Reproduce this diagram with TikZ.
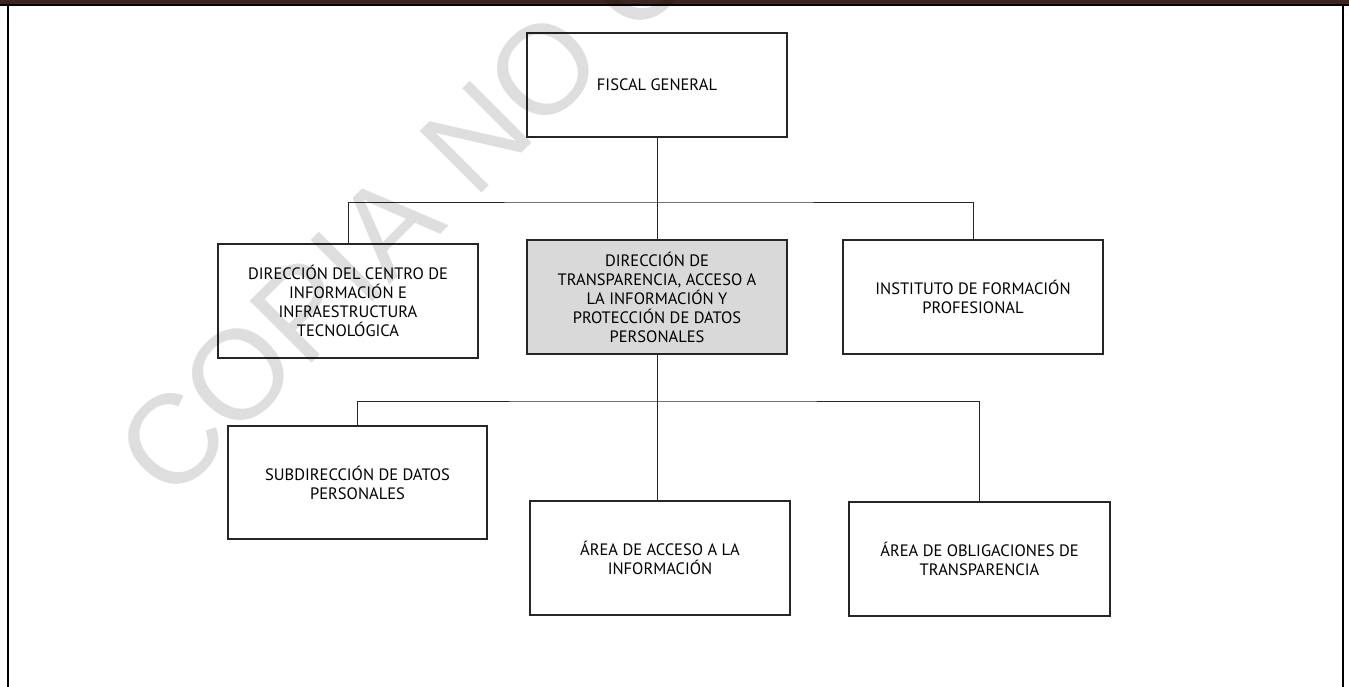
\documentclass[tikz,border=0pt]{standalone}
\usepackage{fontspec}
\setmainfont{PT Sans}
\newfontfamily\wmfont{Liberation Sans}
\definecolor{barbrown}{RGB}{62,38,32}
\definecolor{boxgray}{RGB}{217,217,217}
\begin{document}
\begin{tikzpicture}[x=1pt,y=-1pt,
  box/.style={draw=black!85, line width=1.1pt, minimum width=260pt, minimum height=114pt,
    align=center, inner sep=2pt, font=\fontsize{16.5}{19}\selectfont},
  conn/.style={draw=black!85, line width=0.9pt},
  watermark/.style={rotate=45, anchor=base west, inner sep=0pt, text=black, opacity=0.13,
    font=\wmfont\fontsize{127}{130}\selectfont}]
\useasboundingbox (0,0) rectangle (1349,687);
% frame
\fill[barbrown] (0,0) rectangle (1349,3.7);
\fill[black] (0,3.7) rectangle (1349,5.8);
\fill[black] (7,4) rectangle (9.3,687);
\fill[black] (1341.8,4) rectangle (1344.1,687);
% boxes
\node[box, minimum height=104pt] (fg) at (657,85) {FISCAL GENERAL};
\node[box] (dci) at (348,301) {DIRECCIÓN DEL CENTRO DE\\INFORMACIÓN E\\INFRAESTRUCTURA\\TECNOLÓGICA};
\node[box, fill=boxgray] (dt) at (657,297) {DIRECCIÓN DE\\TRANSPARENCIA, ACCESO A\\LA INFORMACIÓN Y\\PROTECCIÓN DE DATOS\\PERSONALES};
\node[box] (ifp) at (973,297) {INSTITUTO DE FORMACIÓN\\PROFESIONAL};
\node[box, minimum width=259pt, minimum height=113pt] (sub) at (357.5,482.5) {SUBDIRECCIÓN DE DATOS\\PERSONALES};
\node[box] (aa) at (660,558) {ÁREA DE ACCESO A LA\\INFORMACIÓN};
\node[box, minimum width=261pt] (ao) at (979.5,559) {ÁREA DE OBLIGACIONES DE\\TRANSPARENCIA};
% connectors
\coordinate (bus1) at (657,202);
\coordinate (bus2) at (658,401);
\draw[conn] (fg.south) -- (dt.north);
\draw[conn] (dci.north) |- (bus1) -| (ifp.north);
\draw[conn] (dt.south) -- (dt.south |- aa.north);
\draw[conn] (sub.north) |- (bus2) -| (ao.north);
% watermark
\begin{scope}
\clip (0,0) rectangle (1349,687);
\node[watermark] (wm) at (170,505) {COPIA NO CONTROLADA};
\end{scope}
\end{tikzpicture}
\end{document}
